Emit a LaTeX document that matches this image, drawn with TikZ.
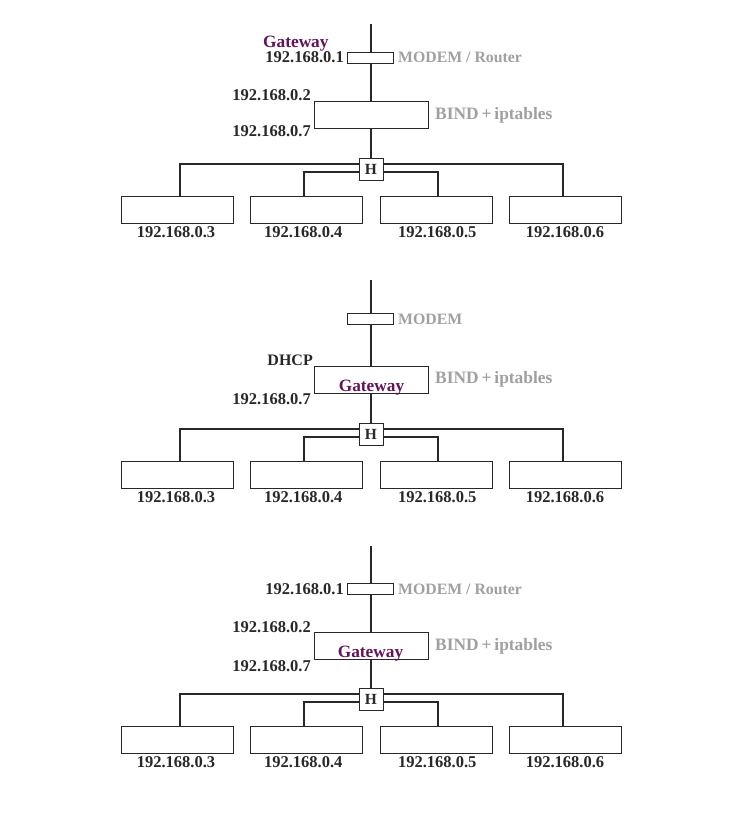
\documentclass[tikz,border=0pt]{standalone}
\usepackage{fontspec}
\setmainfont{Liberation Serif}
\definecolor{ink}{RGB}{40,40,40}
\definecolor{soft}{RGB}{160,160,160}
\definecolor{plum}{RGB}{100,18,90}
\tikzset{
  wire/.style={draw=ink, line width=1.8pt},
  boxshape/.style={draw=ink, line width=0.8pt, fill=white, inner sep=0pt},
  modembox/.style={boxshape, minimum width=46pt, minimum height=11pt},
  bindbox/.style={boxshape, minimum width=114.5pt, minimum height=27pt},
  hostbox/.style={boxshape, minimum width=112pt, minimum height=27pt},
  hubbox/.style={boxshape, minimum width=24pt, minimum height=22pt, text=ink,
    font=\fontsize{15.5}{15.5}\selectfont\bfseries},
  iplabel/.style={inner sep=0pt, text=ink, font=\fontsize{16.5}{16.5}\selectfont\bfseries},
  softlabel/.style={inner sep=0pt, text=soft, font=\fontsize{15.8}{15.8}\selectfont\bfseries},
  bindlabel/.style={inner sep=0pt, text=soft, font=\fontsize{17.4}{17.4}\selectfont\bfseries},
  gwlabel/.style={inner sep=0pt, text=plum, font=\fontsize{17.3}{17.3}\selectfont\bfseries},
}
\newcommand\lanpanel[2]{%
  \node[hubbox] (#1H) at (371,#2) {H};
  \node[hostbox] (#1b1) at (177.5,#2+40.5) {};
  \node[hostbox] (#1b2) at (306,#2+40.5) {};
  \node[hostbox] (#1b3) at (436.3,#2+40.5) {};
  \node[hostbox] (#1b4) at (565.3,#2+40.5) {};
  \draw[wire] ([yshift=5pt]#1H.west) -| ([xshift=2.5pt]#1b1.north);
  \draw[wire] ([yshift=5pt]#1H.east) -| ([xshift=-2.3pt]#1b4.north);
  \draw[wire] ([yshift=-3pt]#1H.west) -| ([xshift=-2pt]#1b2.north);
  \draw[wire] ([yshift=-3pt]#1H.east) -| ([xshift=1.7pt]#1b3.north);
  \node[iplabel, anchor=base] (#1l1) at (176,#2+68.8) {192.168.0.3};
  \node[iplabel, anchor=base] (#1l2) at (303.3,#2+68.8) {192.168.0.4};
  \node[iplabel, anchor=base] (#1l3) at (437.3,#2+68.8) {192.168.0.5};
  \node[iplabel, anchor=base] (#1l4) at (565,#2+68.8) {192.168.0.6};
}
\begin{document}
\begin{tikzpicture}[x=1pt,y=-1pt]
\useasboundingbox (0,0) rectangle (743,826);
\fill[white] (0,0) rectangle (743,826);

% ---------- panel 1 ----------
\coordinate (atop) at (371,24);
\node[modembox] (amodem) at (370,57.5) {};
\node[bindbox] (abind) at (371.3,114.5) {};
\lanpanel{a}{169}
\draw[wire] (atop) -- (atop |- amodem.north);
\draw[wire] (atop |- amodem.south) -- (atop |- abind.north);
\draw[wire] (atop |- abind.south) -- (aH.north);
\node[gwlabel, anchor=base west] (agw) at (263,47.5) {Gateway};
\node[iplabel, anchor=base east] (aip1) at (344,63) {192.168.0.1};
\node[softlabel, anchor=base west] (amt) at (398,63) {MODEM / Router};
\node[iplabel, anchor=base east] (aip2) at (311,100.5) {192.168.0.2};
\node[iplabel, anchor=base east] (aip7) at (311,137) {192.168.0.7};
\node[bindlabel, anchor=base west] (abt) at (435,119.3) {BIND\,+\,iptables};

% ---------- panel 2 ----------
\coordinate (btop) at (371,280);
\node[modembox] (bmodem) at (370,318.8) {};
\node[bindbox] (bbind) at (371.3,380) {};
\lanpanel{b}{434}
\draw[wire] (btop) -- (btop |- bmodem.north);
\draw[wire] (btop |- bmodem.south) -- (btop |- bbind.north);
\draw[wire] (btop |- bbind.south) -- (bH.north);
\node[softlabel, anchor=base west] (bmt) at (398,324) {MODEM};
\node[iplabel, font=\fontsize{16}{16}\selectfont\bfseries, anchor=base east] (bdhcp) at (313,365) {DHCP};
\node[gwlabel, anchor=base] (bgw) at (371.5,391.7) {Gateway};
\node[iplabel, anchor=base east] (bip7) at (311,404) {192.168.0.7};
\node[bindlabel, anchor=base west] (bbt) at (435,383.3) {BIND\,+\,iptables};

% ---------- panel 3 ----------
\coordinate (ctop) at (371,546);
\node[modembox] (cmodem) at (370,588.5) {};
\node[bindbox] (cbind) at (371.3,645.5) {};
\lanpanel{c}{699}
\draw[wire] (ctop) -- (ctop |- cmodem.north);
\draw[wire] (ctop |- cmodem.south) -- (ctop |- cbind.north);
\draw[wire] (ctop |- cbind.south) -- (cH.north);
\node[iplabel, anchor=base east] (cip1) at (344,594) {192.168.0.1};
\node[softlabel, anchor=base west] (cmt) at (398,594) {MODEM / Router};
\node[iplabel, anchor=base east] (cip2) at (311,632.5) {192.168.0.2};
\node[gwlabel, anchor=base] (cgw) at (370.5,657.3) {Gateway};
\node[iplabel, anchor=base east] (cip7) at (311,671) {192.168.0.7};
\node[bindlabel, anchor=base west] (cbt) at (435,650.7) {BIND\,+\,iptables};
\end{tikzpicture}
\end{document}
